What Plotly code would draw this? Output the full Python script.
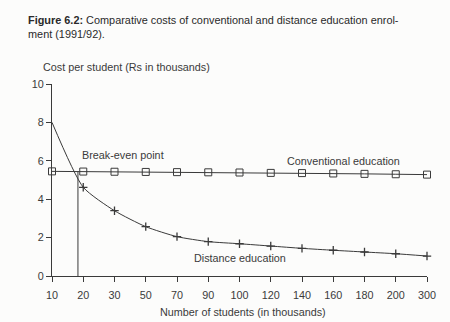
import numpy as np
import plotly.graph_objects as go

# Enrolment levels (thousands of students), shown as evenly spaced categories
students = [10, 20, 30, 50, 70, 90, 100, 120, 140, 160, 180, 200, 300]

# Cost per student (Rs in thousands)
conventional_cost = [5.45, 5.44, 5.43, 5.42, 5.41, 5.40, 5.39, 5.37, 5.36, 5.34, 5.32, 5.30, 5.28]
distance_cost = [8.0, 4.62, 3.40, 2.57, 2.05, 1.79, 1.68, 1.56, 1.44, 1.34, 1.25, 1.16, 1.04]

# Enrolment (thousands) where the two cost curves meet
break_even_students = 18.3

cats = [str(s) for s in students]
idx = np.arange(len(students))
be_idx = float(np.interp(break_even_students, students, idx))
be_cost = float(np.interp(be_idx, idx, conventional_cost))

ink = "#3a3a3a"
font = "Liberation Sans, Arial, sans-serif"
fs = 10.8

W, H = 450, 322
L, R, T, B = 52, 23, 84, 46


def px(x):
    """Figure pixel column -> plot-area paper fraction."""
    return (x - L) / (W - L - R)


def py(y):
    """Figure pixel row -> plot-area paper fraction."""
    return (H - B - y) / (H - T - B)


fig = go.Figure()

fig.add_trace(go.Scatter(
    x=cats, y=conventional_cost, mode="lines+markers",
    line=dict(color=ink, width=1),
    marker=dict(symbol="square-open", size=7, color=ink, line=dict(width=1)),
    cliponaxis=False, showlegend=False,
))

fig.add_trace(go.Scatter(
    x=cats, y=distance_cost, mode="lines",
    line=dict(color=ink, width=1, shape="spline", smoothing=0.6),
    cliponaxis=False, showlegend=False,
))
fig.add_trace(go.Scatter(
    x=cats[1:], y=distance_cost[1:], mode="markers",
    marker=dict(symbol="cross-thin", size=6, color=ink, line=dict(width=1.3, color=ink)),
    cliponaxis=False, showlegend=False,
))

# Vertical drop line at the break-even point
fig.add_shape(type="line", xref="x", yref="y",
              x0=be_idx, x1=be_idx, y0=0, y1=be_cost,
              line=dict(color=ink, width=1))

fig.add_annotation(x=0.9, y=6.3, xref="x", yref="y", text="Break-even point",
                   showarrow=False, xanchor="left", font=dict(size=fs, color=ink, family=font))
fig.add_annotation(x=7.45, y=6.0, xref="x", yref="y", text="Conventional education",
                   showarrow=False, xanchor="left", font=dict(size=fs, color=ink, family=font))
fig.add_annotation(x=4.48, y=0.94, xref="x", yref="y", text="Distance education",
                   showarrow=False, xanchor="left", font=dict(size=fs, color=ink, family=font))

# Figure caption
fig.add_annotation(
    x=px(26), y=py(12), xref="paper", yref="paper",
    text="<b>Figure 6.2:</b> Comparative costs of conventional and distance education enrol-<br>ment (1991/92).",
    showarrow=False, xanchor="left", yanchor="top", align="left",
    font=dict(size=10.9, color="#2a2a2a", family=font),
)
# Axis titles
fig.add_annotation(
    x=px(41), y=py(67), xref="paper", yref="paper",
    text="Cost per student (Rs in thousands)", showarrow=False,
    xanchor="left", yanchor="middle", font=dict(size=fs, color=ink, family=font),
)
fig.add_annotation(
    x=px(243), y=py(312), xref="paper", yref="paper",
    text="Number of students (in thousands)", showarrow=False,
    xanchor="center", yanchor="middle", font=dict(size=fs, color=ink, family=font),
)

fig.update_layout(
    width=W, height=H,
    margin=dict(l=L, r=R, t=T, b=B),
    paper_bgcolor="#fcfcfb", plot_bgcolor="rgba(0,0,0,0)",
    font=dict(family=font, size=fs, color=ink),
)
fig.update_xaxes(
    type="category", categoryorder="array", categoryarray=cats,
    range=[0, len(cats) - 1], showgrid=False, zeroline=False,
    showline=True, linecolor=ink, linewidth=1,
    ticks="outside", ticklen=5, tickcolor=ink, tickwidth=1,
    ticklabelstandoff=4,
    tickfont=dict(size=fs, color=ink), fixedrange=True,
)
fig.update_yaxes(
    range=[0, 10], tickvals=[0, 2, 4, 6, 8, 10], showgrid=False, zeroline=False,
    showline=True, linecolor=ink, linewidth=1,
    ticks="outside", ticklen=5, tickcolor=ink, tickwidth=1,
    tickfont=dict(size=fs, color=ink), fixedrange=True,
)

fig.write_html("out.html")
